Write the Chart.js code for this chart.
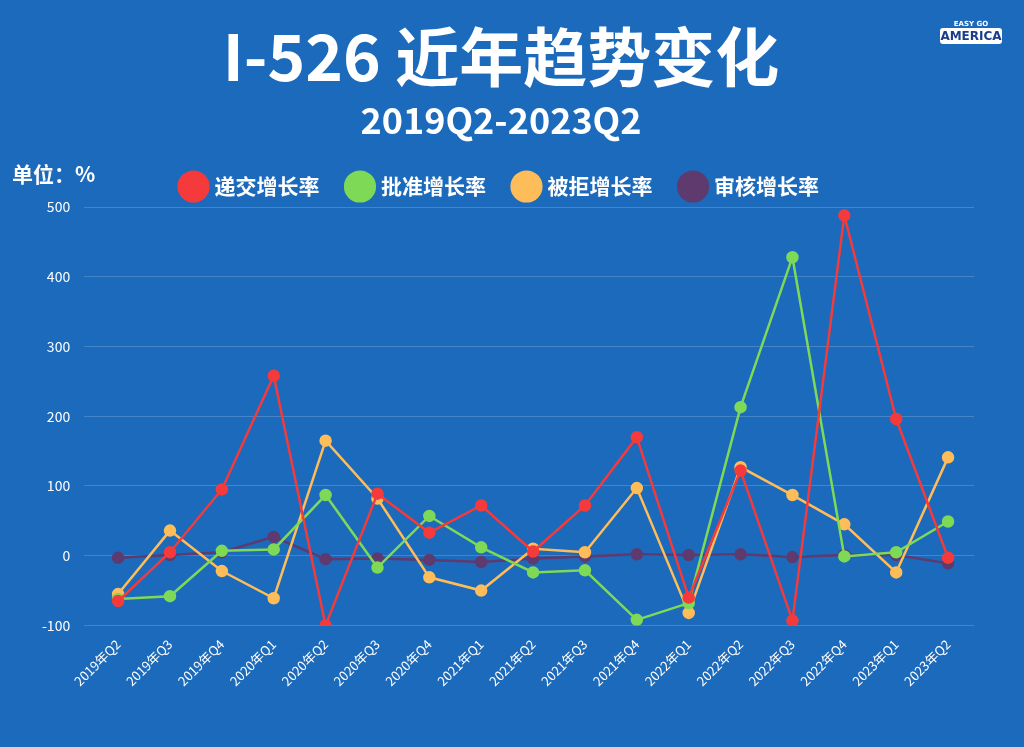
<!DOCTYPE html>
<html><head><meta charset="utf-8">
<script src="https://cdn.jsdelivr.net/npm/chart.js@4"></script>
<style>
html,body{margin:0;padding:0;background:#1c6abb;}
#wrap{position:relative;width:1024px;height:747px;}
#unit{position:absolute;left:12px;top:158px;color:#fff;font:bold 21px "Noto Sans CJK SC";}
#logo{position:absolute;left:940px;top:20px;width:62px;text-align:center;color:#fff;font:bold 12px "DejaVu Sans";}
#logo span{display:block;background:#fff;color:#1a3e8c;border-radius:3px;padding:1px 0;}
</style></head>
<body><div id="wrap"><canvas id="c" width="1024" height="747"></canvas>
<div id="unit">单位：%</div>
<div id="logo"><div style="font-size:7px">EASY GO</div><span>AMERICA</span></div></div>
<script>
const quarters = ['2019年Q2','2019年Q3','2019年Q4','2020年Q1','2020年Q2','2020年Q3','2020年Q4','2021年Q1','2021年Q2','2021年Q3','2021年Q4','2022年Q1','2022年Q2','2022年Q3','2022年Q4','2023年Q1','2023年Q2'];
const filed = [-65,5,95,258,-100,89,33,72,6,72,170,-60,122,-93,488,196,-3];
const approved = [-62,-58,7,9,87,-17,57,12,-24,-21,-92,-68,213,428,-1,5,49];
const denied = [-55,36,-22,-61,165,82,-31,-50,10,5,97,-82,127,87,45,-24,141];
const reviewed = [-3,1,5,27,-5,-4,-6,-9,-4,-1,2,1,2,-2,1,1,-11];

const ds = (label, data, color) => ({label, data, borderColor: color, backgroundColor: color,
  pointBackgroundColor: color, borderWidth: 2.5, pointRadius: 5, tension: 0});

new Chart(document.getElementById('c'), {
  type: 'line',
  data: { labels: quarters, datasets: [
    ds('递交增长率', filed, '#f43a3a'),
    ds('批准增长率', approved, '#7ed957'),
    ds('被拒增长率', denied, '#ffbd59'),
    ds('审核增长率', reviewed, '#5e3a6e')
  ]},
  options: {
    responsive: false, animation: false,
    layout: { padding: { left: 28, right: 50, bottom: 55, top: 10 } },
    plugins: {
      title: { display: true, text: 'I-526 近年趋势变化', color: '#fff',
        font: { family: 'Noto Sans CJK SC', size: 64, weight: 'bold' }, padding: { top: 8, bottom: 4 } },
      subtitle: { display: true, text: '2019Q2-2023Q2', color: '#fff',
        font: { family: 'Noto Sans CJK SC', size: 36, weight: 'bold' }, padding: { bottom: 4 } },
      legend: { labels: { color: '#fff', usePointStyle: true, pointStyle: 'circle', boxWidth: 22, boxHeight: 22, padding: 30,
        font: { family: 'Noto Sans CJK SC', size: 21, weight: 'bold' } } }
    },
    scales: {
      x: { offset: true, grid: { display: false }, border: { display: false },
        ticks: { color: '#fff', maxRotation: 45, minRotation: 45, font: { family: 'Noto Sans CJK SC', size: 13 } } },
      y: { min: -100, max: 500, border: { display: false },
        grid: { color: 'rgba(255,255,255,0.18)' },
        ticks: { stepSize: 100, color: '#fff', padding: 14, font: { family: 'Noto Sans CJK SC', size: 14 } } }
    }
  }
});
</script></body></html>
